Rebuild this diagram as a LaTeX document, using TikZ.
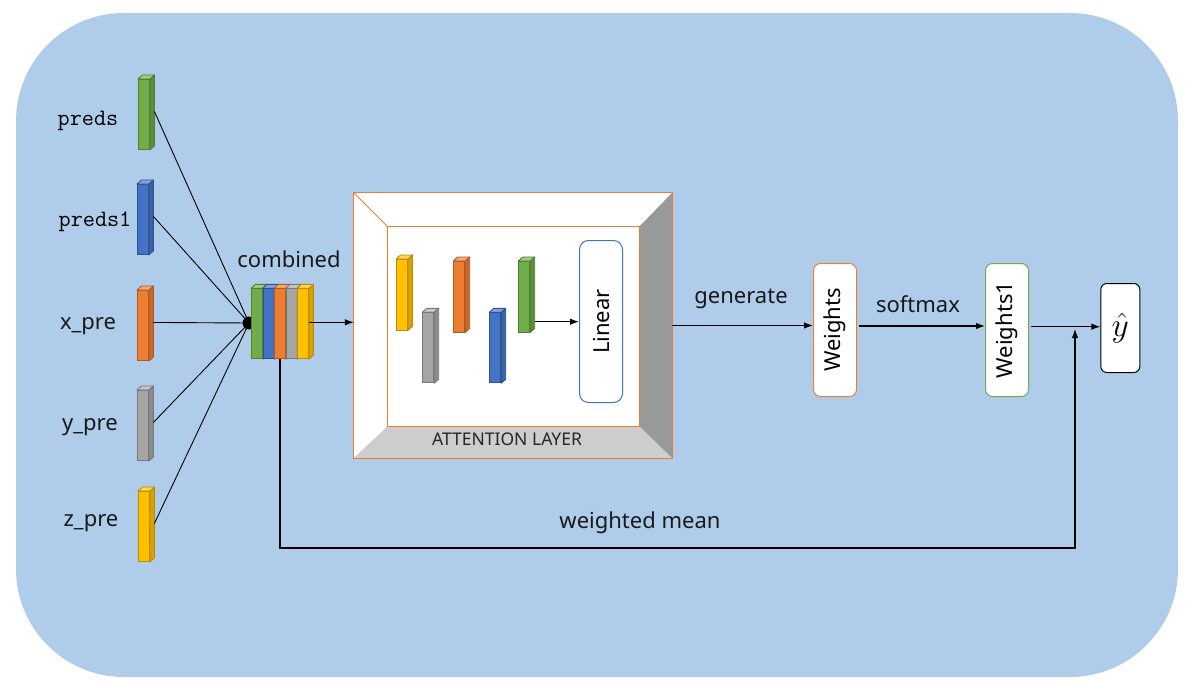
\documentclass[tikz,border=0pt]{standalone}
\usepackage{fontspec}
\usepackage{graphicx}
\setmainfont{Noto Sans}
\usetikzlibrary{arrows.meta,calc}
\definecolor{bg}{RGB}{175,205,234}
\definecolor{gF}{RGB}{112,173,71}\definecolor{gD}{RGB}{80,126,50}\definecolor{gS}{RGB}{91,142,58}
\definecolor{bF}{RGB}{68,114,196}\definecolor{bD}{RGB}{47,82,143}\definecolor{bS}{RGB}{58,98,168}
\definecolor{oF}{RGB}{237,125,49}\definecolor{oD}{RGB}{174,90,33}\definecolor{oS}{RGB}{201,104,42}
\definecolor{aF}{RGB}{165,165,165}\definecolor{aD}{RGB}{120,120,120}\definecolor{aS}{RGB}{140,140,140}
\definecolor{yF}{RGB}{255,192,0}\definecolor{yD}{RGB}{188,140,0}\definecolor{yS}{RGB}{217,163,0}
\definecolor{attorange}{RGB}{237,125,49}
\definecolor{linblue}{RGB}{68,114,196}
\definecolor{wgreen}{RGB}{112,173,71}
\definecolor{rightgray}{RGB}{153,153,153}
\definecolor{botgray}{RGB}{205,205,205}
\tikzset{
  bface/.style={draw, line width=0.9pt, minimum width=11pt, inner sep=0pt, anchor=north west},
  lbl/.style={font=\fontsize{22}{25}\selectfont, text=black!90},
  mono/.style={font=\ttfamily\fontsize{23.5}{26}\selectfont, text=black},
  arr/.style={line width=1.1pt, -{Latex[length=9pt,width=6.5pt]}},
  thinln/.style={line width=0.9pt},
  vbox/.style={draw, fill=white, line width=1pt, rounded corners=7pt, minimum width=43pt, inner sep=0pt},
}
\newcommand\mkbar[7]{%
  \node[bface, fill=#5, draw=#6, minimum height=#4pt] (#1) at (#2,#3) {};
  \filldraw[fill=#7, draw=#6, line width=0.9pt, line join=round] (#1.north east) -- ++(4.5,-4) -- ($(#1.south east)+(4.5,-4)$) -- (#1.south east) -- cycle;
  \filldraw[fill=#5!65!white, draw=#6, line width=0.9pt, line join=round] (#1.north west) -- ++(4.5,-4) -- ($(#1.north east)+(4.5,-4)$) -- (#1.north east) -- cycle;
}
\begin{document}
\begin{tikzpicture}[x=1pt,y=-1pt]
\useasboundingbox (0,0) rectangle (1202,690);
\fill[bg, rounded corners=108pt] (16,13) rectangle (1178,677);

% input bars
\mkbar{p1}{138}{79}{70}{gF}{gD}{gS}
\mkbar{p2}{137}{184}{70}{bF}{bD}{bS}
\mkbar{p3}{137}{290}{70}{oF}{oD}{oS}
\mkbar{p4}{137}{390}{70}{aF}{aD}{aS}
\mkbar{p5}{138}{491}{70}{yF}{yD}{yS}

\node[mono] (lp1) at (88,121) {preds};
\node[mono] (lp2) at (95,222) {preds1};
\node[lbl] (lp3) at (88,326) {x\_pre};
\node[lbl] (lp4) at (90,427) {y\_pre};
\node[lbl] (lp5) at (91,523) {z\_pre};

\coordinate (junc) at (249,323);
\foreach \n in {p1,p2,p3,p4,p5}{
  \draw[thinln] ($(\n.east)+(4.5,-3)$) -- (junc);
}
\fill (junc) circle (6.5);

% combined
\mkbar{cb1}{251}{288.3}{70}{gF}{gD}{gS}
\mkbar{cb2}{262.5}{288.3}{70}{bF}{bD}{bS}
\mkbar{cb3}{274}{288.3}{70}{oF}{oD}{oS}
\mkbar{cb4}{285.5}{288.3}{70}{aF}{aD}{aS}
\mkbar{cb5}{297}{288.3}{70}{yF}{yD}{yS}
\node[lbl] (lcomb) at (289,259) {combined};

% attention layer
\node[minimum width=318pt, minimum height=265pt, inner sep=0pt] (att) at (513,325.5) {};
\node[minimum width=251pt, minimum height=199pt, inner sep=0pt] (attin) at (513.5,326.5) {};
\fill[white] (att.north west) -- (att.north east) -- (attin.north east) -- (attin.north west) -- cycle;
\fill[white] (att.north west) -- (attin.north west) -- (attin.south west) -- (att.south west) -- cycle;
\fill[rightgray] (att.north east) -- (att.south east) -- (attin.south east) -- (attin.north east) -- cycle;
\fill[botgray] (att.south west) -- (attin.south west) -- (attin.south east) -- (att.south east) -- cycle;
\fill[white] (attin.north west) rectangle (attin.south east);
\draw[attorange, line width=0.8pt] (att.north west) -- (attin.north west);
\draw[attorange, line width=0.8pt] (attin.north west) rectangle (attin.south east);
\draw[attorange, line width=1pt] (att.north west) rectangle (att.south east);
\node[font=\fontsize{17.5}{20}\selectfont, text=black!85] (attlbl) at (507,439) {ATTENTION LAYER};

\mkbar{ia1}{396}{259}{70.5}{yF}{yD}{yS}
\mkbar{ia2}{422.3}{312.3}{70}{aF}{aD}{aS}
\mkbar{ia3}{453.3}{261}{70.5}{oF}{oD}{oS}
\mkbar{ia4}{489.3}{312.3}{70}{bF}{bD}{bS}
\mkbar{ia5}{518.3}{261}{70.5}{gF}{gD}{gS}

\node[vbox, draw=linblue, minimum height=162pt, rounded corners=9pt] (lin) at (601,321.5) {\rotatebox{90}{\fontsize{22}{25}\selectfont Linear}};
\draw[arr] ($(ia5.east |- 0,321.7)+(4.5,0)$) -- (lin.west |- 0,321.7);

\draw[arr] (cb5.east |- 0,322.3) -- (att.west |- 0,322.3);

% right part
\node[vbox, draw=attorange, minimum height=133pt] (wt) at (835,330) {\rotatebox{90}{\fontsize{22}{25}\selectfont Weights}};
\node[vbox, draw=wgreen, minimum height=133pt] (wt1) at (1007,330) {\rotatebox{90}{\fontsize{22}{25}\selectfont Weights1}};
\node[vbox, draw=black, minimum width=39pt, minimum height=89pt, rounded corners=6pt] (yh) at (1120.3,328) {\scalebox{1.35}{\fontsize{24}{26}\selectfont$\hat{y}$}};

\draw[arr] (att.east |- 0,325.5) -- (wt.west |- 0,325.5);
\node[lbl] (lgen) at (741,299) {generate};
\draw[arr] ($(wt.east |- 0,326)+(2,0)$) -- (wt1.west |- 0,326);
\node[lbl] (lsm) at (918,304) {softmax};
\draw[arr] ($(wt1.east |- 0,326.7)+(2,0)$) -- (yh.west |- 0,326.7);

\coordinate (wmc) at (1075,548);
\coordinate (tipend) at (1075,329);
\draw[arr] (cb3.south) |- (wmc) -- (tipend);
\node[lbl] (lwm) at (640,523) {weighted mean};
\end{tikzpicture}
\end{document}
